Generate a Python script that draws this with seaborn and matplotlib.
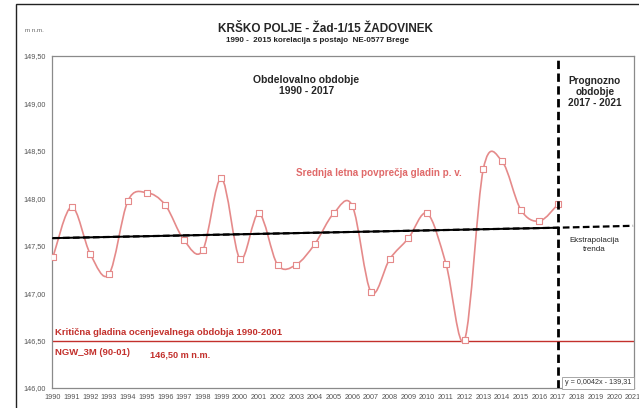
import numpy as np
import matplotlib
matplotlib.use("Agg")
import matplotlib.pyplot as plt
from matplotlib.path import Path
from matplotlib.patches import PathPatch, Rectangle
from matplotlib.ticker import FuncFormatter
import seaborn as sns

# podatki (odčitano s slike)
years = list(range(1990, 2018))
levels = [147.38, 147.91, 147.41, 147.20, 147.97, 148.06, 147.93, 147.56, 147.45, 148.21,
          147.36, 147.84, 147.30, 147.30, 147.52, 147.84, 147.92, 147.01, 147.36, 147.58,
          147.84, 147.31, 146.51, 148.31, 148.39, 147.88, 147.76, 147.94]
trend_years = [1990, 2017, 2021]
trend_levels = [147.58, 147.69, 147.71]
critical_level = 146.50
forecast_start = 2017
tick_years = list(range(1990, 2022))

sns.set_style("white")
plt.rcParams['font.family'] = ['Liberation Sans', 'DejaVu Sans']

fig = plt.figure(figsize=(6.39, 4.08), dpi=100)
ax = fig.add_axes([52 / 639, 20 / 408, (634 - 52) / 639, (388 - 56) / 408])

line_col = '#e58a8a'
red_col = '#c3302c'

# glajena krivulja (Excel "smoothed line") - Bezier skozi točke
pts = np.column_stack([years, levels])
verts = [tuple(pts[0])]
codes = [Path.MOVETO]
n = len(pts)
for i in range(n - 1):
    p0 = pts[max(i - 1, 0)]
    p1 = pts[i]
    p2 = pts[i + 1]
    p3 = pts[min(i + 2, n - 1)]
    c1 = p1 + (p2 - p0) / 6
    c2 = p2 - (p3 - p1) / 6
    verts += [tuple(c1), tuple(c2), tuple(p2)]
    codes += [Path.CURVE4] * 3
ax.add_patch(PathPatch(Path(verts, codes), facecolor='none', edgecolor=line_col, lw=1.2, zorder=3))

sns.scatterplot(x=years, y=levels, marker='s', s=22, facecolor='white',
                edgecolor=line_col, linewidth=0.8, ax=ax, zorder=4)

# trend
ax.plot(trend_years[:2], trend_levels[:2], color='black', lw=1.4, zorder=5)
ax.plot(trend_years, trend_levels, color='black', lw=1.6, ls=(0, (3, 1.5)), zorder=5)

# kritična gladina
ax.axhline(critical_level, color=red_col, lw=1.0, zorder=2)

# meja prognoze
ax.axvline(forecast_start, color='black', lw=2.0, ls=(0, (3, 1.6)), zorder=6)

ax.set_xlim(1989.95, 2021.05)
ax.set_ylim(146.0, 149.5)
ax.set_xticks(tick_years)
ax.set_yticks(np.arange(146.0, 149.51, 0.5))
ax.yaxis.set_major_formatter(FuncFormatter(lambda v, p: f"{v:.2f}".replace('.', ',')))
ax.tick_params(axis='both', which='major', length=2.5, direction='out', width=0.6,
               colors='#555555', labelsize=5.2, pad=2)
for sp in ax.spines.values():
    sp.set_color('#8a8a8a')
    sp.set_linewidth(0.9)

# besedila
ax.text(2003.55, 149.19, "Obdelovalno obdobje\n1990 - 2017", ha='center', va='center',
        fontsize=7.5, fontweight='bold', linespacing=1.15)
ax.text(2018.95, 149.12, "Prognozno\nobdobje\n2017 - 2021", ha='center', va='center',
        fontsize=7.2, fontweight='bold', linespacing=1.15)
ax.text(2003.0, 148.27, "Srednja letna povprečja gladin p. v.", ha='left', va='center',
        fontsize=7.1, fontweight='bold', color='#e06a6a')
ax.text(2018.95, 147.51, "Ekstrapolacija\ntrenda", ha='center', va='center',
        fontsize=5.8, linespacing=1.3)
ax.text(1990.1, 146.59, "Kritična gladina ocenjevalnega obdobja 1990-2001", ha='left', va='center',
        fontsize=6.8, fontweight='bold', color=red_col)
ax.text(1990.1, 146.37, "NGW_3M (90-01)", ha='left', va='center',
        fontsize=6.8, fontweight='bold', color=red_col)
ax.text(1995.2, 146.35, "146,50 m n.m.", ha='left', va='center',
        fontsize=6.6, fontweight='bold', color=red_col)
ax.text(2017.35, 146.055, "y = 0,0042x - 139,31", ha='left', va='center', fontsize=5.2,
        color='#333333',
        bbox=dict(boxstyle='square,pad=0.35', facecolor='white', edgecolor='#9a9a9a', lw=0.6),
        zorder=7)

fig.text(325 / 639, 1 - 29 / 408, "KRŠKO POLJE - Žad-1/15 ŽADOVINEK", ha='center', va='center',
         fontsize=8.5, fontweight='bold')
fig.text(318 / 639, 1 - 41 / 408, "1990 -  2015 korelacija s postajo  NE-0577 Brege", ha='center',
         va='center', fontsize=5.8, fontweight='bold', color='#222222')
fig.text(25 / 639, 1 - 30 / 408, "m n.m.", ha='left', va='center', fontsize=4.5, color='#666666')

# okvir grafikona
fig.patches.append(Rectangle((16 / 639, -0.2), 1.2, 1 - 4 / 408 + 0.2, transform=fig.transFigure,
                             fill=False, edgecolor='#222222', lw=1.0))

fig.savefig('out.png', dpi=100)
